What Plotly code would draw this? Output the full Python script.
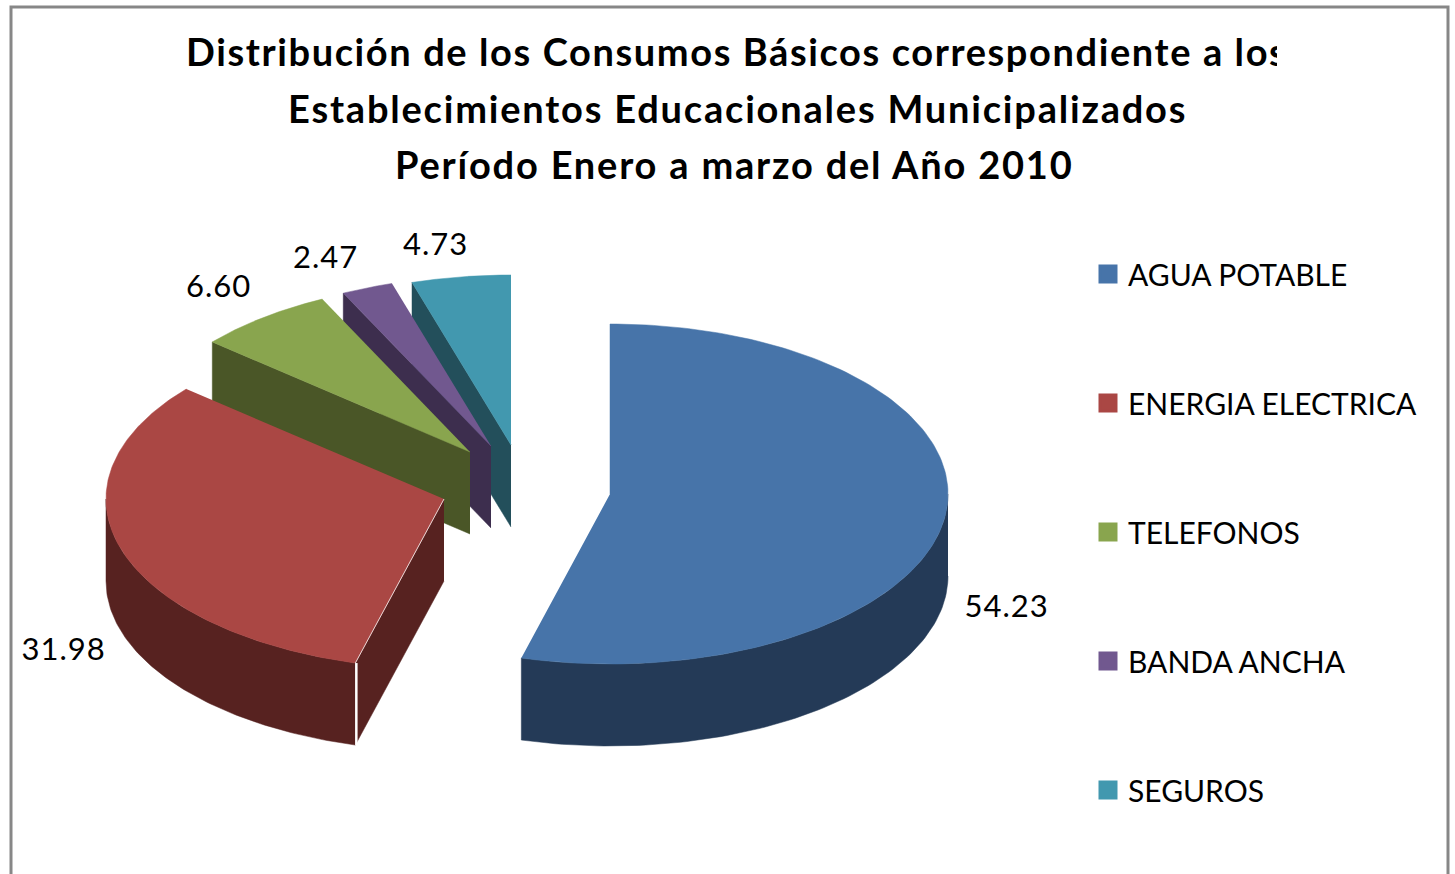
import numpy as np
import plotly.graph_objects as go

categories = ["AGUA POTABLE", "ENERGIA ELECTRICA", "TELEFONOS", "BANDA ANCHA", "SEGUROS"]
values = [54.23, 31.98, 6.60, 2.47, 4.73]
top_colors = ["#4774A9", "#AA4744", "#89A54E", "#71588F", "#4298AF"]
side_colors = ["#243A57", "#572220", "#4A5627", "#3D2E4E", "#234F5B"]
title_lines = [
    "Distribución de los Consumos Básicos correspondiente a los",
    "Establecimientos Educacionales Municipalizados",
    "Período Enero a marzo del Año 2010",
]

# Pie projection, in page pixels
apex_x = [610, 444, 470, 491, 511]
apex_y = [494, 499, 452, 446, 445]
RX, RY, DEPTH = 338, 170, 82
label_xy = [(1006, 605), (63, 648), (218, 285), (325, 256), (435, 243)]
title_xy = [(185, 51), (287, 108), (394, 164)]
FONT = "Lato"
TITLE_SIZE = 38
TEXT_SIZE = 31
LEGEND_SIZE = 30

fig = go.Figure()
edges = np.concatenate([[0], np.cumsum(values)]) / sum(values) * 2 * np.pi


def rim(i, a):
    return apex_x[i] + RX * np.sin(a), apex_y[i] - RY * np.cos(a)


def poly(xs, ys, color):
    fig.add_trace(go.Scatter(x=xs, y=ys, mode="lines", fill="toself", fillcolor=color,
                             line=dict(color=color, width=0.5), hoverinfo="skip", showlegend=False))


for i in [4, 3, 2, 1, 0]:
    a0, a1 = edges[i], edges[i + 1]
    # front rim wall
    lo, hi = max(a0, np.pi / 2), min(a1, 1.5 * np.pi)
    if hi > lo:
        a = np.linspace(lo, hi, 90)
        x, y = rim(i, a)
        poly(np.r_[x, x[::-1]], np.r_[y, y[::-1] + DEPTH], side_colors[i])
    # radial cut wall facing the viewer
    if i > 0:
        sx, sy = rim(i, a0)
        poly([apex_x[i], sx, sx, apex_x[i]],
             [apex_y[i], sy, sy + DEPTH, apex_y[i] + DEPTH], side_colors[i])
    # top face
    a = np.linspace(a0, a1, 160)
    x, y = rim(i, a)
    poly(np.r_[apex_x[i], x], np.r_[apex_y[i], y], top_colors[i])
    if i == 1:
        sx, sy = rim(i, a0)
        fig.add_trace(go.Scatter(x=[apex_x[i], sx], y=[apex_y[i], sy], mode="lines",
                                 line=dict(color="#E8D5D4", width=1), hoverinfo="skip", showlegend=False))
        fig.add_trace(go.Scatter(x=[sx + 1, sx + 1], y=[sy, sy + DEPTH], mode="lines",
                                 line=dict(color="white", width=2.5), hoverinfo="skip", showlegend=False))

for name, color in zip(categories, top_colors):
    fig.add_trace(go.Scatter(x=[None], y=[None], mode="markers", name=name, legendgroup=name,
                             marker=dict(symbol="square", size=16, color=color,
                                         line=dict(color=color, width=3))))

annotations = []
for k, (line, (tx, ty)) in enumerate(zip(title_lines, title_xy)):
    ann = dict(text=line, x=tx, y=ty, align="left", xanchor="left",
               font=dict(family=FONT, size=TITLE_SIZE, color="black", weight="bold"))
    if k == 0:
        ann["width"] = 1276 - tx  # the top line is cut off at this edge, as in the source
    annotations.append(ann)
for v, (lx, ly) in zip(values, label_xy):
    annotations.append(dict(text=f"{v:.2f}", x=lx, y=ly, xanchor="center",
                            font=dict(family=FONT, size=TEXT_SIZE, color="black")))
for a in annotations:
    a.update(xref="x", yref="y", yanchor="middle", showarrow=False, borderpad=0)

fig.update_layout(
    width=1455, height=874, autosize=False,
    margin=dict(l=0, r=0, t=0, b=0),
    paper_bgcolor="white", plot_bgcolor="white",
    xaxis=dict(range=[0, 1455], visible=False, fixedrange=True),
    yaxis=dict(range=[874, 0], visible=False, fixedrange=True),
    annotations=annotations,
    shapes=[dict(type="rect", xref="x", yref="y", x0=11, y0=7, x1=1448, y1=900,
                 line=dict(color="#878787", width=3), layer="below")],
    legend=dict(x=1088 / 1455, y=1 - 248 / 874, xanchor="left", yanchor="top",
                bgcolor="rgba(0,0,0,0)", tracegroupgap=87, itemwidth=30,
                font=dict(family=FONT, size=LEGEND_SIZE, color="black"), traceorder="grouped"),
    showlegend=True,
)

spacing_js = """
document.body.style.margin='0';document.body.style.overflow='hidden';
document.querySelectorAll('.annotation-text').forEach(function(t,i){
  t.style.letterSpacing = i === 0 ? '1.6px' : (i < 3 ? '1.8px' : '1px');
});
"""
fig.write_html("out.html", config=dict(displayModeBar=False), post_script=spacing_js)
